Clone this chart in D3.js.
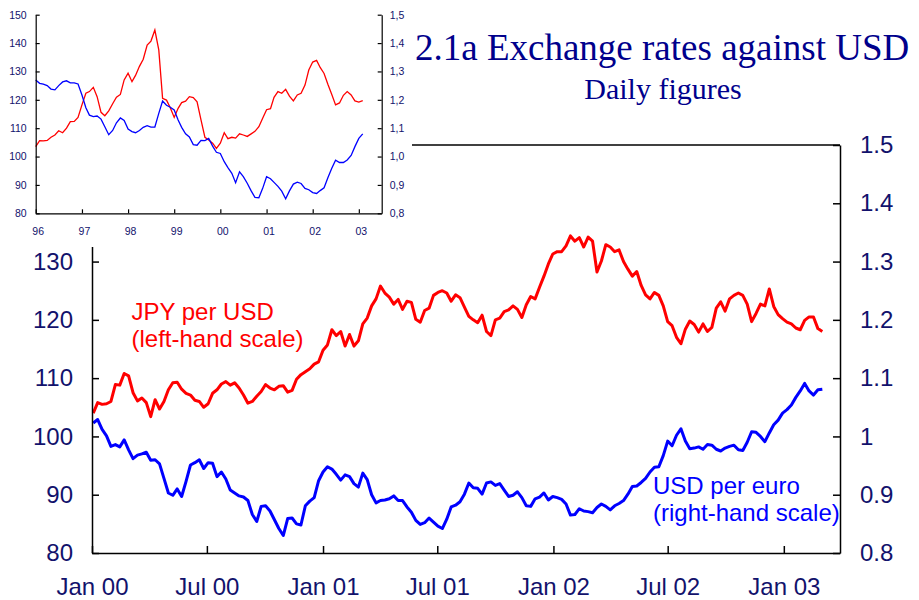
<!DOCTYPE html>
<html>
<head>
<meta charset="utf-8">
<script src="https://cdn.jsdelivr.net/npm/d3@7"></script>
<style>
  body { margin: 0; background: #fff; }
  svg { display: block; }
</style>
</head>
<body>
<div id="chart"></div>
<script>
// main chart: weekly readings, Jan 2000 - Mar 2003
const jpyWeekly = [
  104.0, 105.8, 105.5, 105.6, 106.0, 108.9, 108.8, 110.8, 110.4, 107.5,
  106.1, 106.6, 105.8, 103.4, 106.3, 104.7, 106.0, 108.0, 109.2, 109.3,
  108.1, 107.4, 107.1, 106.2, 106.0, 105.0, 105.6, 107.4, 108.0, 109.0,
  109.4, 108.8, 109.2, 108.3, 107.1, 105.7, 106.0, 106.9, 107.7, 108.9,
  108.3, 108.0, 108.6,
  108.7, 107.6, 107.9, 109.8, 110.6, 111.1, 111.6, 112.4, 112.8, 114.8,
  115.7, 118.3, 117.3, 118.0, 115.5, 117.5, 115.5, 116.4, 119.3, 120.3,
  122.4, 123.6, 125.8, 124.6, 123.9, 122.7, 123.5, 121.8, 123.2, 123.0,
  120.1, 119.6, 121.6, 122.0, 124.2, 124.7, 125.0, 124.6, 123.2, 124.3,
  123.8, 122.2,
  120.6, 120.0, 119.5, 120.8, 118.0, 117.3, 120.0, 120.3, 121.4, 121.7,
  122.4, 121.8, 120.4, 122.6, 124.0, 123.6, 125.6, 127.5, 129.6, 131.3,
  131.7, 131.7, 132.7, 134.4, 133.5, 134.1, 132.5, 134.2, 133.5, 128.2,
  130.1, 132.9, 132.5, 131.7, 132.0, 130.0, 128.7, 127.5, 128.3, 125.9,
  124.3, 123.6, 124.7,
  124.2, 122.4, 119.7, 119.0, 117.0, 115.9, 118.4, 119.8, 119.2, 117.9,
  119.3, 118.0, 118.7, 122.0, 123.1, 121.5, 123.6, 124.2, 124.6, 124.2,
  122.7, 119.7, 121.1, 122.7, 122.4, 125.3, 122.3, 120.9, 120.2, 119.6,
  119.3, 118.6, 118.3, 119.9, 120.5, 120.5, 118.5, 118.0
];

const usdEurWeekly = [
  1.023, 1.029, 1.012, 1.001, 0.983, 0.986, 0.982, 0.994, 0.977, 0.962,
  0.968, 0.970, 0.973, 0.959, 0.960, 0.953, 0.928, 0.903, 0.899, 0.910,
  0.897, 0.923, 0.951, 0.955, 0.960, 0.945, 0.955, 0.954, 0.931, 0.939,
  0.927, 0.908, 0.903, 0.898, 0.896, 0.890, 0.866, 0.854, 0.880, 0.881,
  0.872, 0.857, 0.842,
  0.830, 0.859, 0.860, 0.850, 0.848, 0.881, 0.889, 0.895, 0.924, 0.939,
  0.948, 0.944, 0.935, 0.925, 0.934, 0.931, 0.919, 0.913, 0.937, 0.926,
  0.900, 0.886, 0.890, 0.891, 0.893, 0.898, 0.890, 0.890, 0.879, 0.870,
  0.856, 0.849, 0.852, 0.860, 0.853, 0.846, 0.842, 0.858, 0.879, 0.882,
  0.888, 0.901,
  0.920, 0.912, 0.911, 0.901, 0.920, 0.922, 0.916, 0.919, 0.908, 0.897,
  0.899, 0.905, 0.895, 0.881, 0.880, 0.893, 0.896, 0.903, 0.891, 0.897,
  0.895, 0.892, 0.884, 0.865, 0.866, 0.876, 0.872, 0.871, 0.869, 0.878,
  0.884, 0.880, 0.874, 0.881, 0.885, 0.890, 0.901, 0.914, 0.915, 0.921,
  0.928, 0.939, 0.947,
  0.948, 0.967, 0.992, 0.984, 1.002, 1.013, 0.992, 0.979, 0.980, 0.982,
  0.978, 0.986, 0.985, 0.978, 0.975, 0.980, 0.983, 0.985, 0.977, 0.976,
  0.990, 1.008, 1.007, 1.000, 0.991, 1.006, 1.020, 1.028, 1.040, 1.046,
  1.054, 1.067, 1.078, 1.091, 1.078, 1.071, 1.080, 1.081
];

// inset: monthly readings, Jan 1996 - Feb 2003
const jpyMonthly = [
  103.5, 105.6, 105.5, 105.7, 106.8, 107.6, 109.1, 108.4, 110.0, 112.3,
  112.4, 113.8, 118.2, 122.3, 122.9, 124.4, 121.1, 115.6, 114.4, 116.1,
  118.6, 120.9, 121.9, 127.0, 129.4, 126.4, 128.6, 131.8, 134.3, 139.3,
  140.7, 144.6, 137.6, 120.5, 119.9, 117.2, 113.8, 117.0, 119.0, 119.5,
  121.1, 120.8, 119.3, 112.9, 106.8, 105.8, 104.7, 102.9, 104.7, 108.4,
  106.3, 106.8, 106.5, 108.0, 107.6, 107.1, 108.0, 108.9, 110.5, 113.5,
  116.5, 116.9, 120.9, 122.9, 122.3, 123.7, 121.3, 119.6, 121.7, 122.3,
  125.2, 130.5, 133.3, 133.9, 131.4, 129.3, 125.5, 121.9, 118.2, 118.9,
  121.6, 122.9, 121.7, 119.6, 119.2, 119.7
];

const usdEurMonthly = [
  1.270, 1.258, 1.255, 1.250, 1.238, 1.235, 1.250, 1.263, 1.267, 1.260,
  1.260, 1.256, 1.217, 1.172, 1.146, 1.141, 1.143, 1.132, 1.105, 1.077,
  1.092, 1.119, 1.136, 1.127, 1.097, 1.088, 1.084, 1.092, 1.103, 1.109,
  1.104, 1.104, 1.152, 1.196, 1.181, 1.174, 1.164, 1.129, 1.103, 1.080,
  1.069, 1.042, 1.040, 1.057, 1.056, 1.064, 1.037, 1.015, 1.011, 0.982,
  0.961, 0.941, 0.908, 0.946, 0.929, 0.906, 0.879, 0.856, 0.855, 0.888,
  0.929, 0.922, 0.909, 0.895, 0.878, 0.851, 0.879, 0.903, 0.910, 0.905,
  0.888, 0.883, 0.873, 0.870, 0.880, 0.890, 0.925, 0.959, 0.987, 0.979,
  0.979, 0.988, 1.004, 1.035, 1.064, 1.080
];

const mainXLabels = ["Jan 00", "Jul 00", "Jan 01", "Jul 01", "Jan 02", "Jul 02", "Jan 03"];
const leftTicks = [80, 90, 100, 110, 120, 130, 140, 150];
const rightTicks = [0.8, 0.9, 1.0, 1.1, 1.2, 1.3, 1.4, 1.5];
const insetXLabels = ["96", "97", "98", "99", "00", "01", "02", "03"];

const weekDates = d3.timeMonday.range(new Date(2000, 0, 3), new Date(2003, 2, 4));
const monthDates = d3.timeMonth.range(new Date(1996, 0, 1), new Date(2003, 2, 1));

const width = 919, height = 600;
const sans = "'Liberation Sans', Arial, Helvetica, sans-serif";
const navy = "#12126c";

const svg = d3.select("#chart").append("svg")
  .attr("width", width)
  .attr("height", height);

// ---------- main chart ----------
const m = { left: 92, right: 840, top: 145, bottom: 553 };

const x = d3.scaleTime()
  .domain([new Date(2000, 0, 1), new Date(2003, 2, 31)])
  .range([m.left, m.right]);
const yL = d3.scaleLinear().domain([80, 150]).range([m.bottom, m.top]);
const yR = d3.scaleLinear().domain([0.8, 1.5]).range([m.bottom, m.top]);

const parseMain = d3.timeParse("%b %y");

function styleAxis(g, size, stroke) {
  g.attr("font-family", sans)
    .attr("font-size", size)
    .style("color", navy);
  g.select(".domain").attr("stroke", "#000").attr("stroke-width", stroke);
  g.selectAll(".tick line").attr("stroke", "#000").attr("stroke-width", stroke);
}

svg.append("line")
  .attr("x1", m.left).attr("x2", m.right)
  .attr("y1", m.top).attr("y2", m.top)
  .attr("stroke", "#000").attr("stroke-width", 1.5);

const line = (xs, ys) => d3.line()
  .x(d => xs(d.date))
  .y(d => ys(d.value));

const jpyData = weekDates.map((d, i) => ({ date: d, value: jpyWeekly[i] }));
const eurData = weekDates.map((d, i) => ({ date: d, value: usdEurWeekly[i] }));

svg.append("path")
  .datum(jpyData)
  .attr("fill", "none")
  .attr("stroke", "#ff0000")
  .attr("stroke-width", 3)
  .attr("stroke-linejoin", "round")
  .attr("d", line(x, yL));

svg.append("path")
  .datum(eurData)
  .attr("fill", "none")
  .attr("stroke", "#0000ff")
  .attr("stroke-width", 3)
  .attr("stroke-linejoin", "round")
  .attr("d", line(x, yR));

svg.append("g")
  .attr("transform", `translate(0,${m.bottom})`)
  .call(d3.axisBottom(x)
    .tickValues(mainXLabels.map(parseMain))
    .tickFormat(d3.timeFormat("%b %y"))
    .tickSizeInner(-7).tickSizeOuter(0).tickPadding(25))
  .call(g => styleAxis(g, 24, 1.5));

svg.append("g")
  .attr("transform", `translate(${m.left},0)`)
  .call(d3.axisLeft(yL)
    .tickValues(leftTicks)
    .tickFormat(d3.format("d"))
    .tickSizeInner(-7).tickSizeOuter(0).tickPadding(19))
  .call(g => styleAxis(g, 24, 1.5));

svg.append("g")
  .attr("transform", `translate(${m.right},0)`)
  .call(d3.axisRight(yR)
    .tickValues(rightTicks)
    .tickFormat(d => String(+d.toFixed(1)))
    .tickSizeInner(-7).tickSizeOuter(0).tickPadding(20))
  .call(g => styleAxis(g, 24, 1.5));

const seriesLabels = svg.append("g")
  .attr("font-family", sans)
  .attr("font-size", 24);

seriesLabels.append("text").attr("x", 131.5).attr("y", 319.5)
  .attr("fill", "#ff0000").text("JPY per USD");
seriesLabels.append("text").attr("x", 131.5).attr("y", 346.5)
  .attr("fill", "#ff0000").text("(left-hand scale)");
seriesLabels.append("text").attr("x", 653).attr("y", 494)
  .attr("fill", "#0000ff").text("USD per euro");
seriesLabels.append("text").attr("x", 653).attr("y", 521)
  .attr("fill", "#0000ff").text("(right-hand scale)");

// ---------- inset (monthly, 1996-2003) ----------
svg.append("rect")
  .attr("x", 0).attr("y", 0)
  .attr("width", 412).attr("height", 247)
  .attr("fill", "#fff");

const im = { left: 35.7, right: 381.7, top: 14.7, bottom: 213.3 };

const xi = d3.scaleTime()
  .domain([new Date(1996, 0, 1), new Date(2003, 6, 1)])
  .range([im.left, im.right]);
const yiL = d3.scaleLinear().domain([80, 150]).range([im.bottom, im.top]);
const yiR = d3.scaleLinear().domain([0.8, 1.5]).range([im.bottom, im.top]);

const jpyM = monthDates.map((d, i) => ({ date: d, value: jpyMonthly[i] }));
const eurM = monthDates.map((d, i) => ({ date: d, value: usdEurMonthly[i] }));

svg.append("path")
  .datum(jpyM)
  .attr("fill", "none")
  .attr("stroke", "#ff0000")
  .attr("stroke-width", 1.3)
  .attr("d", line(xi, yiL));

svg.append("path")
  .datum(eurM)
  .attr("fill", "none")
  .attr("stroke", "#0000ff")
  .attr("stroke-width", 1.3)
  .attr("d", line(xi, yiR));

svg.append("g")
  .attr("transform", `translate(0,${im.bottom})`)
  .call(d3.axisBottom(xi)
    .tickValues(insetXLabels.map(d3.timeParse("%y")))
    .tickFormat(d3.timeFormat("%y"))
    .tickSizeInner(-4).tickSizeOuter(0).tickPadding(14))
  .call(g => styleAxis(g, 10.5, 1.2))
  .call(g => g.selectAll(".tick text").attr("dx", 2));

svg.append("g")
  .attr("transform", `translate(${im.left},0)`)
  .call(d3.axisLeft(yiL)
    .tickValues(leftTicks)
    .tickFormat(d3.format("d"))
    .tickSizeInner(-4).tickSizeOuter(0).tickPadding(9))
  .call(g => styleAxis(g, 10.5, 1.2));

svg.append("g")
  .attr("transform", `translate(${im.right},0)`)
  .call(d3.axisRight(yiR)
    .tickValues(rightTicks)
    .tickFormat(d => d.toFixed(1).replace(".", ","))
    .tickSizeInner(-4).tickSizeOuter(0).tickPadding(8))
  .call(g => styleAxis(g, 10.5, 1.2));

// ---------- titles ----------
svg.append("text")
  .attr("x", 415).attr("y", 60)
  .attr("font-family", "'Liberation Serif', 'Times New Roman', serif")
  .attr("font-size", 37)
  .attr("fill", "#00008c")
  .text("2.1a Exchange rates against USD");

svg.append("text")
  .attr("x", 663).attr("y", 99)
  .attr("text-anchor", "middle")
  .attr("font-family", "'Liberation Serif', 'Times New Roman', serif")
  .attr("font-size", 30)
  .attr("fill", "#00008c")
  .text("Daily figures");
</script>
</body>
</html>
